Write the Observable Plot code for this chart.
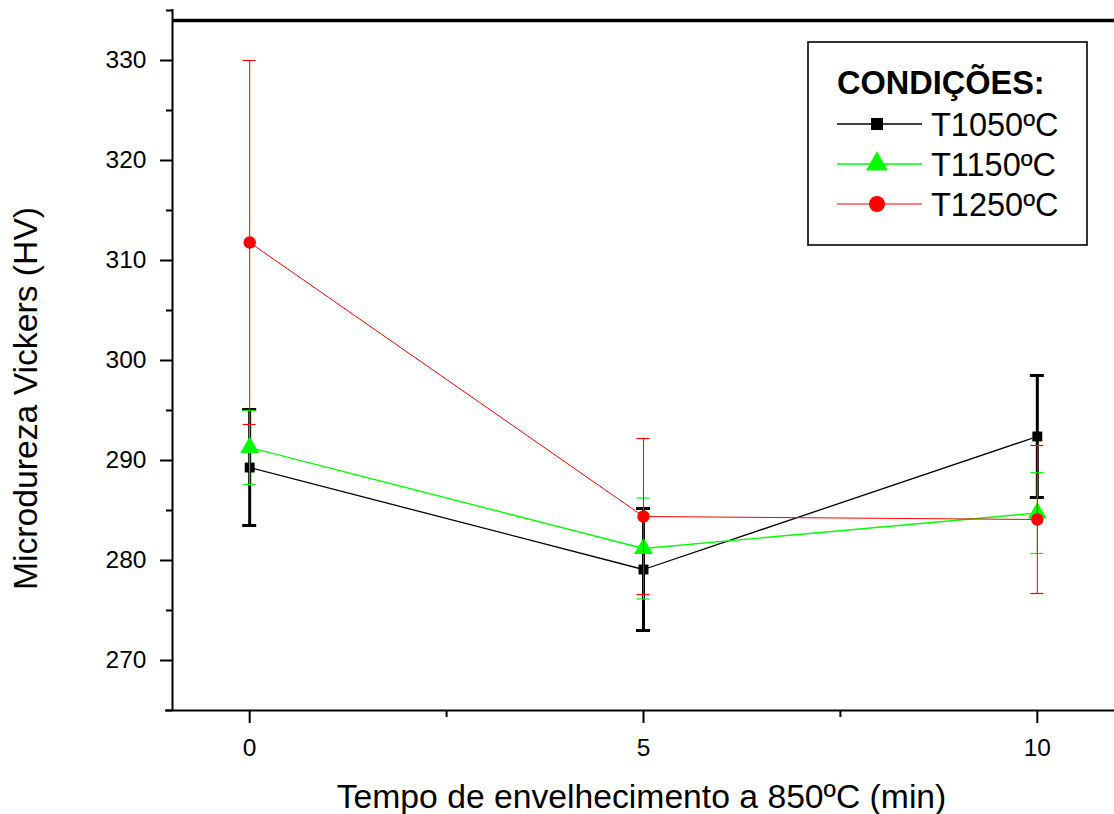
<!DOCTYPE html>
<html><head><meta charset="utf-8">
<script src="https://cdn.jsdelivr.net/npm/d3@7"></script>
<script src="https://cdn.jsdelivr.net/npm/@observablehq/plot@0.6"></script>
<style>
html,body{margin:0;padding:0;background:#fff;overflow:hidden;}
#chart{position:relative;width:1114px;height:814px;overflow:hidden;}
#chart svg{display:block;}
</style></head><body><div id="chart"></div>
<script>
// ---- data ----
const times = [0, 5, 10];
const seriesNames = ["T1050ºC", "T1150ºC", "T1250ºC"];
const seriesColors = ["#000000", "#00ff00", "#ff0000"];
const seriesSymbols = ["square", "triangle", "circle"];
const meanT1050 = [289.3, 279.1, 292.4];
const errT1050 = [5.8, 6.1, 6.1];
const meanT1150 = [291.3, 281.2, 284.75];
const errT1150 = [3.7, 5.05, 4.05];
const meanT1250 = [311.8, 284.4, 284.1];
const errT1250 = [18.2, 7.8, 7.4];
const yMajorTicks = [270, 280, 290, 300, 310, 320, 330];
const yMinorTicks = [265, 275, 285, 295, 305, 315, 325, 335];
const xMajorTicks = [0, 5, 10];
const xMinorTicks = [2.5, 7.5];
const xTitle = "Tempo de envelhecimento a 850ºC (min)";
const yTitle = "Microdureza Vickers (HV)";
const legendTitle = "CONDIÇÕES:";

// ---- styles ----
const FONT = "Liberation Sans, Arial, Helvetica, sans-serif";
const seriesStyle = [
  {line: 1.3, bar: 3, cap: 3, capHalf: 7, r: 5.6},
  {line: 1.4, bar: 1, cap: 1.2, capHalf: 6.5, r: 7.0},
  {line: 1.0, bar: 1, cap: 1.2, capHalf: 6.5, r: 6.2}
];

const means = [meanT1050, meanT1150, meanT1250];
const errs = [errT1050, errT1150, errT1250];
const rows = means.map((m, s) => times.map((t, i) => ({
  t, mean: m[i], lo: m[i] - errs[s][i], hi: m[i] + errs[s][i], series: seriesNames[s]
})));

const marks = [];
// axes
marks.push(Plot.ruleY([334], {strokeWidth: 3.5, stroke: "#000"}));
marks.push(Plot.axisY(yMajorTicks, {tickSize: 12, tickPadding: 14, strokeWidth: 2, fontSize: 24.5, label: null}));
marks.push(Plot.axisY(yMinorTicks, {tickSize: 6, strokeWidth: 2, tickFormat: () => "", label: null}));
marks.push(Plot.axisX(xMajorTicks, {tickSize: 13, tickPadding: 15, strokeWidth: 2, fontSize: 24.5, label: null}));
marks.push(Plot.axisX(xMinorTicks, {tickSize: 7, strokeWidth: 2, tickFormat: () => "", label: null}));
marks.push(Plot.ruleX([-0.98], {strokeWidth: 2, stroke: "#000", insetTop: -1}));
marks.push(Plot.ruleY([265], {strokeWidth: 2, stroke: "#000", insetLeft: -7}));

rows.forEach((data, s) => {
  const c = seriesColors[s], st = seriesStyle[s];
  marks.push(Plot.line(data, {x: "t", y: "mean", stroke: c, strokeWidth: st.line}));
  marks.push(Plot.dot(data, {x: "t", y: "mean", symbol: seriesSymbols[s], fill: c, stroke: "none", r: st.r}));
  marks.push(Plot.ruleX(data, {x: "t", y1: "lo", y2: "hi", stroke: c, strokeWidth: st.bar}));
  marks.push(Plot.ruleY(data, {y: "hi", x1: "t", x2: "t", insetLeft: -st.capHalf, insetRight: -st.capHalf, stroke: c, strokeWidth: st.cap}));
  marks.push(Plot.ruleY(data, {y: "lo", x1: "t", x2: "t", insetLeft: -st.capHalf, insetRight: -st.capHalf, stroke: c, strokeWidth: st.cap}));
});

// titles
marks.push(Plot.text([xTitle], {text: d => d, frameAnchor: "bottom", textAnchor: "middle", dx: -2, dy: 97, lineAnchor: "bottom", fontSize: 33.7, fill: "#000"}));
marks.push(Plot.text([yTitle], {text: d => d, frameAnchor: "left", textAnchor: "middle", rotate: -90, dx: -146, dy: 38, lineAnchor: "middle", fontSize: 33.7, fill: "#000"}));

const chart = Plot.plot({
  width: 1114, height: 814,
  marginLeft: 172, marginRight: 0, marginTop: 10, marginBottom: 104,
  x: {domain: [-0.98, 10.98], label: null},
  y: {domain: [265, 335], label: null},
  style: {fontFamily: FONT, fontSize: "24px", color: "#000", background: "#fff"},
  marks
});
document.getElementById("chart").appendChild(chart);

// legend (inside plot area, top-right)
const svg = d3.select(chart);
const lg = svg.append("g").attr("font-family", FONT).attr("text-anchor", "start");
lg.append("rect").attr("x", 808).attr("y", 42).attr("width", 279).attr("height", 203)
  .attr("fill", "#fff").attr("stroke", "#000").attr("stroke-width", 1.6);
lg.append("text").attr("x", 837).attr("y", 94).attr("font-size", 32.5).attr("font-weight", "bold")
  .attr("text-anchor", "start").attr("fill", "#000").text(legendTitle);
const legendR = [6.8, 8.2, 8.0];
const symMap = {square: d3.symbolSquare, triangle: d3.symbolTriangle, circle: d3.symbolCircle};
seriesNames.forEach((name, i) => {
  const y = 124 + 40 * i;
  lg.append("line").attr("x1", 837).attr("x2", 922).attr("y1", y).attr("y2", y)
    .attr("stroke", seriesColors[i]).attr("stroke-width", seriesStyle[i].line);
  lg.append("path").attr("transform", `translate(877,${y})`)
    .attr("d", d3.symbol(symMap[seriesSymbols[i]], legendR[i] * legendR[i] * Math.PI)())
    .attr("fill", seriesColors[i]);
  lg.append("text").attr("x", 931).attr("y", y + 11.5).attr("font-size", 32.5)
    .attr("text-anchor", "start").attr("fill", "#000").text(name);
});
</script>
</body></html>
